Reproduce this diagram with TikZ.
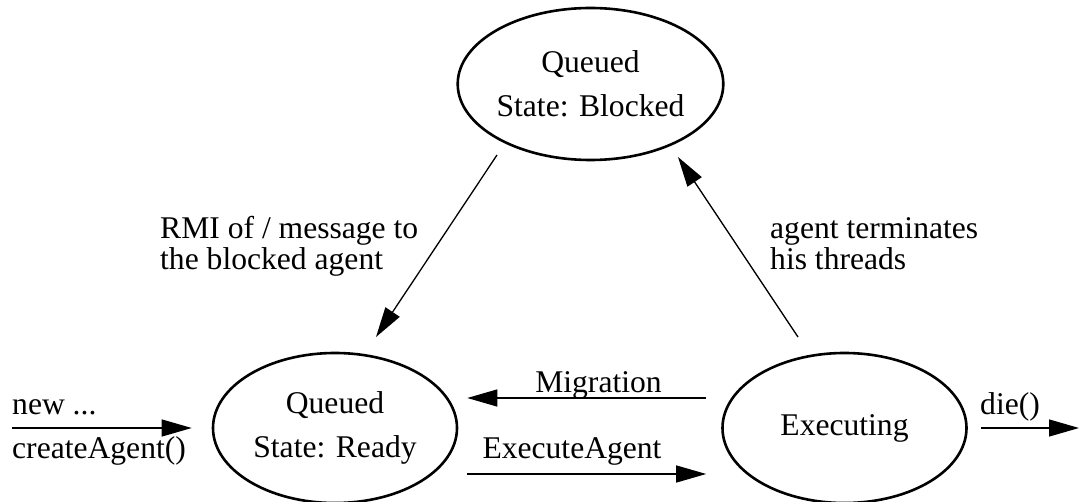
\documentclass[tikz,border=0pt]{standalone}
\usepackage{fontspec}
\setmainfont{Liberation Serif}
\usetikzlibrary{arrows.meta,shapes.geometric,calc}
\begin{document}
\begin{tikzpicture}[x=1pt,y=-1pt,
  statebox/.style={draw, ellipse, line width=2.6pt, inner sep=0pt,
    minimum width=244pt, minimum height=150pt, align=center,
    font=\fontsize{31.6}{43.5}\selectfont},
  conn/.style={line width=1.3pt, -{Triangle[length=30pt,width=17pt]}},
  lbl/.style={inner sep=0pt, align=left, font=\fontsize{31.6}{31}\selectfont}]
\useasboundingbox (0,0) rectangle (1079,502);
% states
\node[statebox, minimum width=245pt, minimum height=152pt] (blocked) at (590.5,84) {Queued\\State: Blocked};
\node[statebox] (ready) at (335,428) {Queued\\State: Ready};
\node[statebox] (exec) at (844.5,428) {\raisebox{-4pt}{Executing}};
% free ends
\coordinate (newstart) at (12,428);
\coordinate (dieend) at (1079,428);
% connectors
\draw[conn, shorten >=20pt] (newstart) -- (ready.west);
\draw[conn] ([xshift=13pt]exec.east) -- (dieend);
\draw[conn] ([xshift=-15pt,yshift=30pt]exec.west) -- ([xshift=9pt,yshift=30pt]ready.east);
\draw[conn] ([xshift=9pt,yshift=-46pt]ready.east) -- ([xshift=-15pt,yshift=-46pt]exec.west);
\draw[conn] ($(blocked)+(-93.5,71)$) -- ($(ready)+(41,-91)$);
\draw[conn] ($(exec)+(-46.5,-91)$) -- ($(blocked)+(87.5,73)$);
% labels
\node[lbl, anchor=base west] (lnew) at (12,414) {new ...};
\node[lbl, anchor=base west] (lcreate) at (12,458) {createAgent()};
\node[lbl, anchor=base] (lmig) at (598.5,392) {Migration};
\node[lbl, anchor=base] (lexe) at (572,458) {ExecuteAgent};
\node[lbl, anchor=base west] (ldie) at (980,414) {die()};
\node[lbl, anchor=base west] (lrmi) at (160,270) {RMI of / message to\\the blocked agent};
\node[lbl, anchor=base west] (lterm) at (770,270) {agent terminates\\his threads};
\end{tikzpicture}
\end{document}
